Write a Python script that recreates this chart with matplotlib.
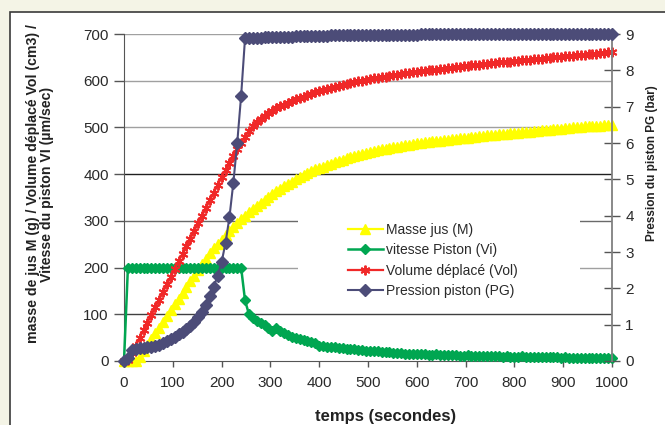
import matplotlib
matplotlib.use('Agg')
import matplotlib.pyplot as plt
from matplotlib.patches import Rectangle

plt.rcParams['font.family'] = ['Liberation Sans', 'DejaVu Sans']

# time axis: one sample every 8 s
temps = list(range(0, 1001, 8))

masse_jus = [
    0, 0, 0, 0, 9, 22, 34, 47, 59, 71,
    84, 96, 109, 121, 133, 146, 158, 171, 183, 195,
    207, 219, 231, 242, 251, 260, 269, 278, 287, 295,
    303, 311, 318, 325, 332, 339, 345, 351, 357, 363,
    368, 374, 379, 384, 389, 394, 398, 402, 406, 410,
    413, 416, 419, 422, 425, 428, 431, 434, 436, 438,
    441, 443, 445, 447, 449, 451, 453, 454, 456, 458,
    459, 460, 462, 463, 464, 466, 467, 468, 469, 470,
    471, 472, 473, 474, 475, 476, 477, 477, 478, 479,
    480, 481, 482, 483, 483, 484, 485, 486, 487, 488,
    488, 489, 490, 491, 491, 492, 493, 494, 494, 495,
    496, 497, 497, 498, 499, 500, 500, 501, 502, 502,
    503, 504, 504, 505, 506, 506,
]

vitesse_piston = [
    0, 200, 200, 200, 200, 200, 200, 200, 200, 200,
    200, 200, 200, 200, 200, 200, 200, 200, 200, 200,
    200, 200, 200, 200, 200, 200, 200, 200, 200, 200,
    200, 130, 100, 92, 86, 82, 78, 70, 64, 71,
    65, 60, 55, 52, 50, 48, 46, 43, 40, 38,
    33, 32, 31, 30, 29, 28, 27, 26, 25, 25,
    24, 23, 22, 22, 21, 21, 20, 20, 19, 18,
    17, 17, 16, 16, 15, 14, 14, 14, 13, 13,
    14, 13, 13, 12, 12, 12, 11, 11, 12, 11,
    11, 10, 10, 11, 10, 10, 10, 9, 10, 9,
    9, 9, 10, 9, 9, 8, 9, 8, 8, 8,
    8, 8, 7, 8, 7, 7, 7, 7, 7, 6,
    7, 6, 6, 6, 6, 6,
]

volume_deplace = [
    0, 2, 17, 33, 49, 66, 82, 98, 115, 131,
    148, 164, 180, 197, 213, 230, 246, 262, 279, 295,
    311, 328, 344, 360, 377, 393, 409, 424, 439, 453,
    467, 480, 492, 502, 511, 518, 525, 531, 536, 541,
    545, 549, 553, 557, 560, 563, 566, 569, 572, 575,
    577, 580, 582, 584, 587, 589, 591, 593, 595, 597,
    599, 600, 602, 603, 605, 606, 608, 609, 611, 612,
    613, 614, 616, 617, 618, 619, 620, 621, 622, 623,
    624, 625, 626, 627, 628, 629, 630, 631, 632, 633,
    634, 634, 635, 636, 637, 638, 639, 640, 640, 641,
    642, 643, 644, 644, 645, 646, 647, 647, 648, 649,
    650, 650, 651, 652, 653, 653, 654, 655, 656, 657,
    658, 658, 659, 660, 661, 662,
]

pression_piston = [
    0, 0.08, 0.30, 0.34, 0.36, 0.37, 0.38, 0.39, 0.42, 0.45,
    0.50, 0.55, 0.60, 0.66, 0.73, 0.80, 0.88, 0.97, 1.07, 1.20,
    1.36, 1.55, 1.78, 2.05, 2.35, 2.72, 3.25, 3.95, 4.90, 6.00,
    7.30, 8.88, 8.88, 8.89, 8.90, 8.90, 8.91, 8.91, 8.92, 8.92,
    8.92, 8.93, 8.93, 8.93, 8.94, 8.94, 8.94, 8.94, 8.95, 8.95,
    8.95, 8.95, 8.95, 8.96, 8.96, 8.96, 8.96, 8.96, 8.96, 8.97,
    8.97, 8.97, 8.97, 8.97, 8.97, 8.97, 8.98, 8.98, 8.98, 8.98,
    8.98, 8.98, 8.98, 8.98, 8.98, 8.98, 8.99, 8.99, 8.99, 8.99,
    8.99, 8.99, 8.99, 8.99, 8.99, 8.99, 8.99, 8.99, 8.99, 8.99,
    8.99, 8.99, 9.00, 9.00, 9.00, 9.00, 9.00, 9.00, 9.00, 9.00,
    9.00, 9.00, 9.00, 9.00, 9.00, 9.00, 9.00, 9.00, 9.00, 9.00,
    9.00, 9.00, 9.00, 9.00, 9.00, 9.00, 9.00, 9.00, 9.00, 9.00,
    9.00, 9.00, 9.00, 9.00, 9.00, 9.00,
]

noms = ['Masse jus (M)', 'vitesse Piston (Vi)', 'Volume déplacé (Vol)', 'Pression piston (PG)']
couleurs = ['#FFFF00', '#00A651', '#F02828', '#4C4C78']

y_ticks = [0, 100, 200, 300, 400, 500, 600, 700]
grid_cols = ['#a0a0a0', '#404040', '#a0a0a0', '#6a6a6a', '#202020', '#a0a0a0', '#a0a0a0', '#a0a0a0']
x_ticks = [0, 100, 200, 300, 400, 500, 600, 700, 800, 900, 1000]
p_ticks = [0, 1, 2, 3, 4, 5, 6, 7, 8, 9]

W, H = 665, 425
fig = plt.figure(figsize=(W / 100, H / 100), dpi=100, facecolor='#F4F4E6')
# white panel with dark frame (right/bottom edges run off the picture)
fig.patches.append(Rectangle((9.5 / W, -0.1), 1.2, 1.1 - 11.5 / H, transform=fig.transFigure,
                             facecolor='white', edgecolor='#3a3a3a', lw=1.2, zorder=-10))

ax = fig.add_axes([124 / W, 64 / H, 488 / W, 327 / H])
ax.patch.set_visible(False)
ax2 = ax.twinx()
ax2.patch.set_visible(False)

for v, c in zip(y_ticks[1:], grid_cols[1:]):
    ax.axhline(v, color=c, lw=1, zorder=0.5)

# white legend background hides the grid behind it
ax.add_patch(Rectangle((0.357, 0.171), 0.577, 0.275, transform=ax.transAxes,
                       facecolor='white', edgecolor='none', zorder=1))

l1, = ax.plot(temps, masse_jus, color=couleurs[0], marker='^', ms=7, lw=1.6,
              clip_on=False, zorder=3, label=noms[0])
l2, = ax.plot(temps, vitesse_piston, color=couleurs[1], marker='D', ms=5.2, lw=1.8,
              clip_on=False, zorder=4, label=noms[1])
l3, = ax.plot(temps, volume_deplace, color=couleurs[2], marker=(6, 2, 0), ms=7, mew=1.4,
              lw=1.6, clip_on=False, zorder=5, label=noms[2])
l4, = ax2.plot(temps, pression_piston, color=couleurs[3], marker='D', ms=5.8, lw=1.5,
               clip_on=False, zorder=6, label=noms[3])

ax.set_xlim(0, 1000)
ax.set_ylim(0, 700)
ax2.set_ylim(0, 9)
ax.set_xticks(x_ticks)
ax.set_yticks(y_ticks)
ax2.set_yticks(p_ticks)

for s in ['top', 'right']:
    ax.spines[s].set_visible(False)
for s in ['top', 'left', 'bottom']:
    ax2.spines[s].set_visible(False)
ax.spines['left'].set_color('#555555')
ax.spines['bottom'].set_color('#555555')
ax2.spines['right'].set_color('#808080')
ax2.spines['right'].set_linewidth(1.3)

ax.tick_params(axis='y', direction='out', length=7, width=1, color='#555555',
               labelsize=11, pad=4, labelcolor='#2a2a2a')
ax.tick_params(axis='x', direction='out', length=4, width=1, color='#555555',
               labelsize=11, pad=7, labelcolor='#2a2a2a')
ax2.tick_params(axis='y', direction='inout', length=11, width=1, color='#555555',
                labelsize=11, pad=4, labelcolor='#2a2a2a')

fig.text(386 / W, 1 - 416 / H, 'temps (secondes)', ha='center', va='center',
         fontsize=12, fontweight='bold', color='#222222')
fig.text(40 / W, 1 - 184 / H,
         'masse de jus M (g) / Volume déplacé Vol (cm3) /\nVitesse du piston VI (µm/sec)',
         rotation=90, ha='center', va='center', multialignment='center',
         fontsize=10.2, fontweight='bold', linespacing=1.05, color='#222222')
fig.text(652 / W, 1 - 163 / H, 'Pression du piston PG (bar)', rotation=90,
         ha='center', va='center', fontsize=8.5, fontweight='bold', color='#222222')

ax2.legend([l1, l2, l3, l4], noms, loc='upper left', bbox_to_anchor=(0.459, 0.422),
           frameon=False, fontsize=10, handlelength=2.5, handletextpad=0.25,
           labelspacing=0.45, borderpad=0, borderaxespad=0, labelcolor='#2a2a2a')

fig.savefig('out.png', dpi=100, facecolor=fig.get_facecolor())
plt.close(fig)
